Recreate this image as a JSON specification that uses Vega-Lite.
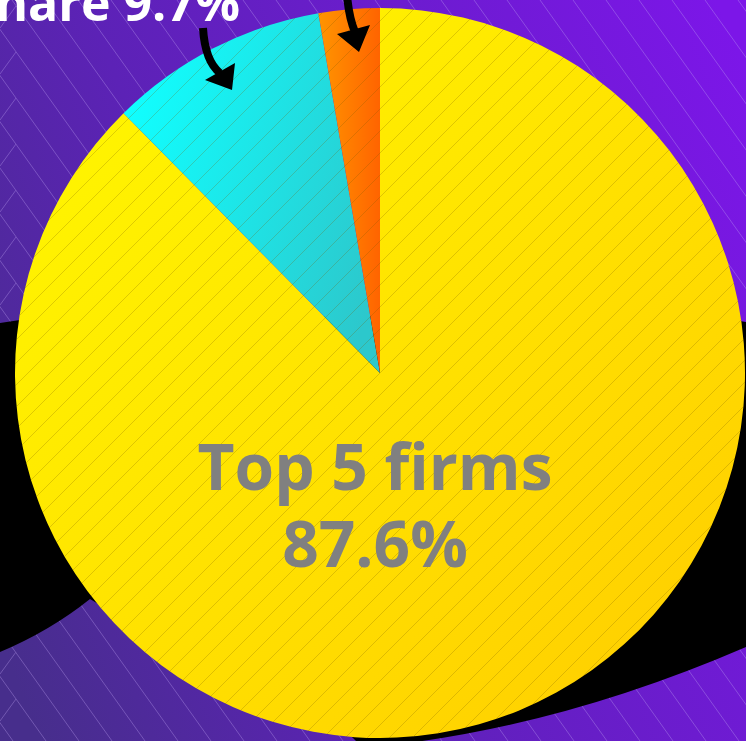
{
  "$schema": "https://vega.github.io/schema/vega-lite/v6.json",
  "width": 732,
  "height": 736,
  "autosize": {"type": "none"},
  "padding": {"left": 14, "top": 5, "right": 0, "bottom": 0},
  "background": "#5a24b4",
  "config": {"view": {"stroke": null}},
  "datasets": {
    "shares": [
      {"segment": "Top 5 firms", "share": 87.6, "idx": 1, "label": "Top 5 firms\n87.6%"},
      {"segment": "Fringe share", "share": 9.7, "idx": 2, "label": "Fringe share 9.7%"},
      {"segment": "Remaining firms", "share": 2.7, "idx": 3, "label": "Remaining firms 2.7%"}
    ],
    "deco": [{"decor": "backdrop"}]
  },
  "layer": [
    {
      "data": {"name": "deco"},
      "mark": {
        "type": "point",
        "shape": "M -420 -420 L 420 -420 L 420 420 L -420 420 Z",
        "size": 4,
        "filled": true,
        "opacity": 1,
        "strokeWidth": 0,
        "fill": {
          "gradient": "linear", "x1": 0, "y1": 0.7, "x2": 1, "y2": 0.3,
          "stops": [
            {"offset": 0, "color": "#472e8c"},
            {"offset": 0.35, "color": "#5c22b6"},
            {"offset": 1, "color": "#7c16e8"}
          ]
        }
      },
      "encoding": {}
    },
    {
      "data": {"name": "deco"},
      "mark": {
        "type": "point",
        "shape": "M -896 -373 L -367 368 M -863 -373 L -334 368 M -830 -373 L -301 368 M -797 -373 L -268 368 M -764 -373 L -235 368 M -731 -373 L -202 368 M -698 -373 L -169 368 M -665 -373 L -136 368 M -632 -373 L -103 368 M -599 -373 L -70 368 M -566 -373 L -37 368 M -533 -373 L -4 368 M -500 -373 L 29 368 M -467 -373 L 62 368 M -434 -373 L 95 368 M -401 -373 L 128 368 M -368 -373 L 161 368 M -335 -373 L 194 368 M -302 -373 L 227 368 M -269 -373 L 260 368 M -236 -373 L 293 368 M -203 -373 L 326 368 M -170 -373 L 359 368 M -137 -373 L 392 368 M -104 -373 L 425 368 M -71 -373 L 458 368 M -38 -373 L 491 368 M -5 -373 L 524 368 M 28 -373 L 557 368 M 61 -373 L 590 368 M 94 -373 L 623 368 M 127 -373 L 656 368 M 160 -373 L 689 368 M 193 -373 L 722 368 M 226 -373 L 755 368 M 259 -373 L 788 368 M 292 -373 L 821 368 M 325 -373 L 854 368 M 358 -373 L 887 368 M -364 -367 L -380 -345 M -364 -321 L -380 -299 M -364 -275 L -380 -253 M -364 -229 L -380 -207 M -364 -183 L -380 -161 M -364 -136 L -380 -114 M -364 -90 L -380 -68 M -364 -44 L -380 -22 M -364 2 L -380 24 M -364 48 L -380 70 M -364 95 L -380 117 M -364 141 L -380 163 M -364 187 L -380 209 M -364 233 L -380 255 M -364 279 L -380 301 M -364 326 L -380 348",
        "size": 4,
        "filled": false,
        "stroke": "#c2a6f5",
        "strokeWidth": 1,
        "opacity": 0.35
      },
      "encoding": {}
    },
    {
      "data": {"name": "deco"},
      "mark": {
        "type": "point",
        "shape": "M -410 -47 L -380 -50 L -360 -53 L -320 -57 L 320 -57 L 360 -52 L 366 -51 L 410 -43 L 410 257 L 366 274 Q 190 350 20 371 L -20 372 L -40 352 L -180 307 L -255 247 L -290 226 Q -330 258 -380 279 L -410 297 Z",
        "size": 4,
        "filled": true,
        "opacity": 1,
        "strokeWidth": 0,
        "fill": "#000000"
      },
      "encoding": {}
    },
    {
      "data": {"name": "shares"},
      "mark": {"type": "arc", "outerRadius": 365, "strokeWidth": 0},
      "encoding": {
        "theta": {"field": "share", "type": "quantitative", "stack": true},
        "order": {"field": "idx", "type": "quantitative"},
        "fill": {
          "condition": [
            {
              "test": "datum.segment === 'Top 5 firms'",
              "value": {
                "gradient": "linear", "x1": 0, "y1": 0, "x2": 1, "y2": 1,
                "stops": [
                  {"offset": 0, "color": "#fffa00"},
                  {"offset": 1, "color": "#ffcb00"}
                ]
              }
            },
            {
              "test": "datum.segment === 'Fringe share'",
              "value": {
                "gradient": "linear", "x1": 0, "y1": 0.3, "x2": 1, "y2": 0.7,
                "stops": [
                  {"offset": 0, "color": "#10ffff"},
                  {"offset": 1, "color": "#2cc8cc"}
                ]
              }
            }
          ],
          "value": {
            "gradient": "linear", "x1": 0, "y1": 0, "x2": 1, "y2": 0,
            "stops": [
              {"offset": 0, "color": "#ff9500"},
              {"offset": 1, "color": "#ff6400"}
            ]
          }
        }
      }
    },
    {
      "data": {"name": "deco"},
      "mark": {
        "type": "point",
        "shape": "M 258 -258 L -258 258 M 269 -247 L -247 269 M 247 -269 L -269 247 M 279 -235 L -235 279 M 235 -279 L -279 235 M 289 -223 L -223 289 M 223 -289 L -289 223 M 298 -210 L -210 298 M 210 -298 L -298 210 M 307 -197 L -197 307 M 197 -307 L -307 197 M 316 -184 L -184 316 M 184 -316 L -316 184 M 323 -169 L -169 323 M 169 -323 L -323 169 M 331 -155 L -155 331 M 155 -331 L -331 155 M 337 -139 L -139 337 M 139 -337 L -337 139 M 344 -124 L -124 344 M 124 -344 L -344 124 M 349 -107 L -107 349 M 107 -349 L -349 107 M 354 -90 L -90 354 M 90 -354 L -354 90 M 358 -72 L -72 358 M 72 -358 L -358 72 M 361 -53 L -53 361 M 53 -361 L -361 53 M 364 -34 L -34 364 M 34 -364 L -364 34 M 365 -13 L -13 365 M 13 -365 L -365 13 M 365 9 L 9 365 M -9 -365 L -365 -9 M 364 33 L 33 364 M -33 -364 L -364 -33 M 360 58 L 58 360 M -58 -360 L -360 -58 M 355 85 L 85 355 M -85 -355 L -355 -85 M 346 116 L 116 346 M -116 -346 L -346 -116 M 332 152 L 152 332 M -152 -332 L -332 -152 M 304 202 L 202 304 M -202 -304 L -304 -202",
        "size": 4,
        "filled": false,
        "stroke": "#7a5a00",
        "strokeWidth": 0.8,
        "opacity": 0.3
      },
      "encoding": {}
    },
    {
      "data": {"name": "shares"},
      "transform": [{"filter": "datum.segment === 'Top 5 firms'"}],
      "mark": {
        "type": "text",
        "font": "Open Sans",
        "fontSize": 64,
        "fontWeight": "bold",
        "color": "#808080",
        "align": "center",
        "baseline": "alphabetic",
        "lineBreak": "\n",
        "lineHeight": 77,
        "dx": -5,
        "dy": 117
      },
      "encoding": {"text": {"field": "label"}}
    },
    {
      "data": {"name": "shares"},
      "transform": [{"filter": "datum.segment === 'Fringe share'"}],
      "mark": {
        "type": "text",
        "font": "Open Sans",
        "fontSize": 50,
        "fontWeight": "bold",
        "color": "#ffffff",
        "align": "right",
        "baseline": "alphabetic",
        "dx": -140,
        "dy": -352
      },
      "encoding": {"text": {"field": "label"}}
    },
    {
      "data": {"name": "deco"},
      "mark": {
        "type": "point",
        "shape": "M -177 -345 Q -175 -312 -160 -300 M -33 -378 Q -31 -355 -25 -341",
        "size": 4,
        "filled": false,
        "stroke": "#000000",
        "strokeWidth": 8,
        "strokeCap": "butt",
        "opacity": 1
      },
      "encoding": {}
    },
    {
      "data": {"name": "deco"},
      "mark": {
        "type": "point",
        "shape": "M -175 -293 L -145 -310 L -148 -283 Z M -43 -339 L -10 -348 L -21 -321 Z",
        "size": 4,
        "filled": true,
        "opacity": 1,
        "strokeWidth": 0,
        "fill": "#000000"
      },
      "encoding": {}
    }
  ]
}
